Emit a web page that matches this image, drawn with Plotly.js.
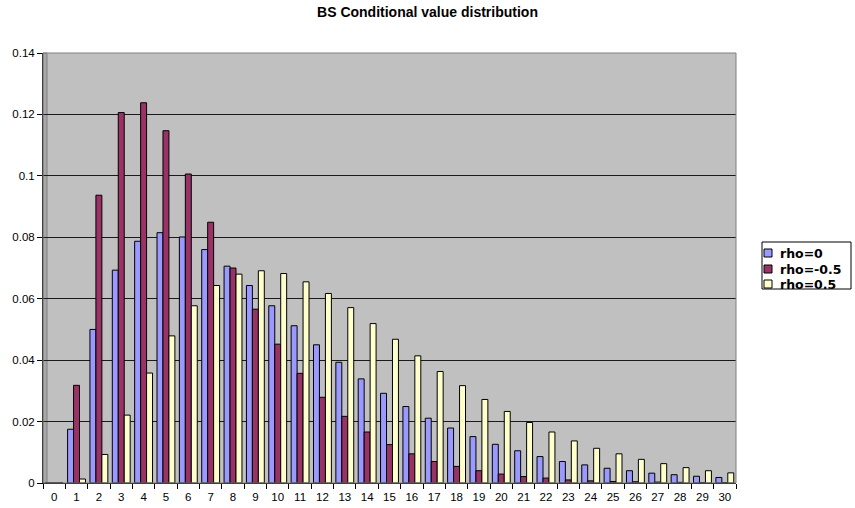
<!DOCTYPE html>
<html>
<head>
<meta charset="utf-8">
<script src="https://cdn.plot.ly/plotly-3.0.1.min.js"></script>
<style>
  html, body { margin: 0; padding: 0; background: #ffffff; }
  #chart { width: 855px; height: 508px; }
</style>
</head>
<body>
<div id="chart"></div>
<script>
// Category labels (value buckets 0..30)
const categories = ['0','1','2','3','4','5','6','7','8','9','10','11','12','13','14','15',
  '16','17','18','19','20','21','22','23','24','25','26','27','28','29','30'];

// Probability per bucket for each correlation setting
const rhoZero = [0, 0.0175, 0.0500, 0.0693, 0.0787, 0.0815, 0.0801, 0.0760, 0.0706, 0.0643,
  0.0577, 0.0512, 0.0450, 0.0393, 0.0339, 0.0292, 0.0249, 0.0211, 0.0179, 0.0151,
  0.0126, 0.0105, 0.0086, 0.0070, 0.0059, 0.0048, 0.0040, 0.0032, 0.0027, 0.0022, 0.0018];

const rhoNeg = [0, 0.0318, 0.0937, 0.1206, 0.1238, 0.1147, 0.1006, 0.0849, 0.0700, 0.0566,
  0.0452, 0.0357, 0.0279, 0.0217, 0.0166, 0.0125, 0.0095, 0.0070, 0.0054, 0.0040,
  0.0029, 0.0021, 0.0016, 0.0010, 0.0007, 0.0005, 0.0004, 0.0003, 0.0002, 0.0001, 0.0001];

const rhoPos = [0, 0.0013, 0.0093, 0.0221, 0.0358, 0.0479, 0.0577, 0.0643, 0.0680, 0.0691,
  0.0682, 0.0655, 0.0617, 0.0571, 0.0519, 0.0468, 0.0414, 0.0363, 0.0317, 0.0272,
  0.0233, 0.0197, 0.0166, 0.0137, 0.0113, 0.0095, 0.0077, 0.0063, 0.0050, 0.0040, 0.0033];

const seriesNames = ['rho=0', 'rho=-0.5', 'rho=0.5'];
const seriesColors = ['#9999FF', '#993366', '#FFFFCC'];
const seriesValues = [rhoZero, rhoNeg, rhoPos];

// Plot-area geometry in pixels (used to place the boxed legend)
const W = 855, H = 508;
const M = { l: 43, r: 119, t: 53, b: 25 };
const plotW = W - M.l - M.r;
const plotH = H - M.t - M.b;
const px = x => (x - M.l) / plotW;
const py = y => (H - M.b - y) / plotH;

const traces = seriesValues.map((vals, i) => ({
  type: 'bar',
  name: seriesNames[i],
  x: categories,
  y: vals,
  marker: { color: seriesColors[i], line: { color: '#000000', width: 1 } },
  hoverinfo: 'x+y+name'
}));

const font = 'Arial, "Liberation Sans", sans-serif';
const legendFont = '"DejaVu Sans", Arial, sans-serif';

const shapes = [
  // left side wall of the chart box
  { type: 'rect', xref: 'paper', yref: 'paper', x0: 0, x1: px(47), y0: 0, y1: 1,
    fillcolor: '#A8A8A8', line: { color: '#808080', width: 1 }, layer: 'below' },
  // outline of the back wall
  { type: 'rect', xref: 'paper', yref: 'paper', x0: 0, x1: 1, y0: 0, y1: 1,
    line: { color: '#808080', width: 1 } },
  // legend frame
  { type: 'rect', xref: 'paper', yref: 'paper', x0: px(762), x1: px(851), y0: py(242), y1: py(289),
    fillcolor: '#FFFFFF', line: { color: '#000000', width: 1 } }
];

const legendRows = [253, 269, 284];
const annotations = [];
seriesNames.forEach((name, i) => {
  const cy = legendRows[i];
  shapes.push({ type: 'rect', xref: 'paper', yref: 'paper',
    x0: px(764), x1: px(772), y0: py(cy + 4), y1: py(cy - 4),
    fillcolor: seriesColors[i], line: { color: '#000000', width: 1 } });
  annotations.push({ xref: 'paper', yref: 'paper', x: px(779), y: py(cy),
    xanchor: 'left', yanchor: 'middle', showarrow: false, borderpad: 0,
    text: '<b>' + name + '</b>', font: { family: legendFont, size: 12.5, color: '#000000' } });
});

const layout = {
  width: W, height: H,
  margin: M,
  paper_bgcolor: '#FFFFFF',
  plot_bgcolor: '#C0C0C0',
  showlegend: false,
  barmode: 'group',
  bargap: 0.2,
  bargroupgap: 0,
  title: {
    text: '<b>BS Conditional value distribution</b>',
    font: { family: font, size: 14, color: '#000000' },
    xref: 'container', x: 0.5, xanchor: 'center',
    yref: 'container', y: 1 - 12.5 / H, yanchor: 'middle'
  },
  xaxis: {
    type: 'category',
    tickson: 'boundaries',
    tickangle: 0,
    ticks: 'outside', ticklen: 5, tickcolor: '#000000',
    ticklabelstandoff: 3,
    showline: true, linecolor: '#000000', linewidth: 1,
    showgrid: false, zeroline: false,
    tickfont: { family: font, size: 11.5, color: '#000000' }
  },
  yaxis: {
    range: [0, 0.14],
    dtick: 0.02,
    ticks: 'outside', ticklen: 5, tickcolor: '#000000',
    showline: true, linecolor: '#000000', linewidth: 1,
    showgrid: true, gridcolor: '#1A1A1A', gridwidth: 1,
    zeroline: false,
    tickfont: { family: font, size: 11.5, color: '#000000' }
  },
  shapes: shapes,
  annotations: annotations
};

Plotly.newPlot('chart', traces, layout, { displayModeBar: false, staticPlot: true });
</script>
</body>
</html>
